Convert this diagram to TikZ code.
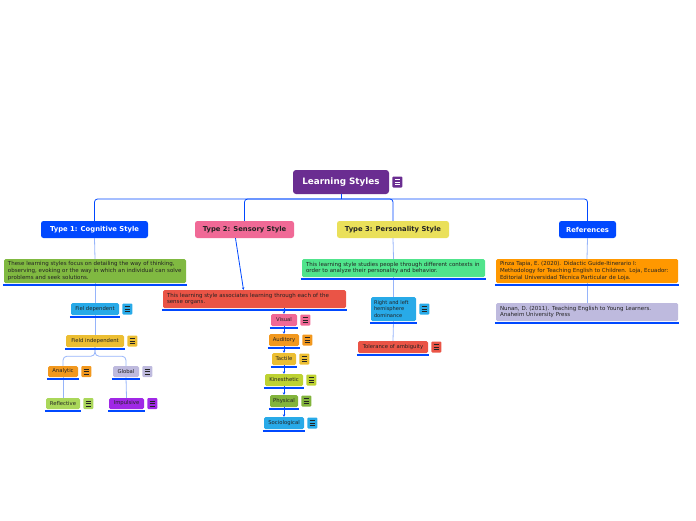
\documentclass[tikz,border=0pt]{standalone}
\usepackage{fontspec}
\setmainfont{DejaVu Sans}
\usetikzlibrary{positioning,arrows.meta}
\definecolor{lspurple}{RGB}{106,45,145}
\definecolor{mapblue}{RGB}{0,72,255}
\definecolor{linkpale}{RGB}{150,180,250}
\definecolor{sensepink}{RGB}{240,105,150}
\definecolor{typeyellow}{RGB}{234,224,90}
\definecolor{cogngreen}{RGB}{128,185,65}
\definecolor{sensered}{RGB}{234,84,70}
\definecolor{persmint}{RGB}{80,228,140}
\definecolor{reforange}{RGB}{255,152,0}
\definecolor{lavgray}{RGB}{190,186,222}
\definecolor{skycyan}{RGB}{40,170,232}
\definecolor{goldfill}{RGB}{236,190,50}
\definecolor{amberfill}{RGB}{242,152,30}
\definecolor{limefill}{RGB}{170,215,90}
\definecolor{impviolet}{RGB}{160,40,230}
\definecolor{kinlime}{RGB}{190,210,50}
\definecolor{physgreen}{RGB}{130,180,60}
\definecolor{inkdark}{RGB}{35,35,35}

\newcommand\menulines[1]{%
  \foreach \dy in {-2.3,0,2.3}{%
    \draw[#1,line width=0.6pt] ([shift={(-2.8pt,\dy pt)}]path picture bounding box.center) -- ++(5.6pt,0pt);}}
\newcommand\ulineof[1]{%
  \draw[uline] ([xshift=-1pt,yshift=-2pt]#1.south west) -- ([xshift=1pt,yshift=-2pt]#1.south east);}

\begin{document}
\begin{tikzpicture}[x=1pt,y=-1pt,
  topicbox/.style={rounded corners=2.5pt,inner sep=0pt,minimum height=17pt,
    font=\fontsize{6.8}{8}\selectfont\bfseries},
  notebox/.style={rounded corners=1.5pt,inner xsep=4pt,inner ysep=0pt,align=left,
    font=\fontsize{5.5}{6.6}\selectfont,text=inkdark},
  leafbox/.style={rounded corners=1.5pt,inner sep=0pt,minimum height=12pt,
    font=\fontsize{5.3}{6}\selectfont,text=inkdark},
  noteicon/.style 2 args={fill=#1,rounded corners=1pt,inner sep=0pt,
    minimum width=10pt,minimum height=11pt,path picture={\menulines{#2}}},
  uline/.style={mapblue,line width=2.4pt},
  mainlink/.style={mapblue,line width=0.8pt,rounded corners=3pt},
  palelink/.style={linkpale,line width=0.8pt},
  steplink/.style={mapblue,line width=0.8pt,-{Stealth[length=2.5pt,width=2.6pt]}}]
  \useasboundingbox (0,0) rectangle (696,520);

  \node[fill=lspurple,text=white,rounded corners=3pt,inner sep=0pt,minimum width=96pt,
    minimum height=24pt,font=\fontsize{8.8}{10}\selectfont\bfseries] (ls) at (341,182) {Learning Styles};
  \node[noteicon={lspurple}{white},right=3pt of ls] (lsicon) {};
  \coordinate (hub) at (341,199);

  \node[topicbox,fill=mapblue,text=white,minimum width=107pt] (cog) at (94.5,229.5) {Type 1: Cognitive Style};
  \node[topicbox,fill=sensepink,text=inkdark,minimum width=99pt] (sens) at (244.5,229.5) {Type 2: Sensory Style};
  \node[topicbox,fill=typeyellow,text=inkdark,minimum width=112pt] (pers) at (393,229.5) {Type 3: Personality Style};
  \node[topicbox,fill=mapblue,text=white,minimum width=57pt] (refs) at (587.5,229.5) {References};

  % type 1
  \node[notebox,fill=cogngreen,minimum width=182pt,text width=174pt,minimum height=24pt] (cogtext) at (95,271)
    {These learning styles focus on detailing the way of thinking,\\observing, evoking or the way in which an individual can solve\\problems and seek solutions.};
  \node[leafbox,fill=skycyan,minimum width=48pt] (fielddep) at (95,309) {Fiel dependent};
  \node[noteicon={skycyan}{inkdark},right=3pt of fielddep] (fielddepicon) {};
  \node[leafbox,fill=goldfill,minimum width=58pt] (fieldind) at (95,341) {Field independent};
  \node[noteicon={goldfill}{inkdark},right=3pt of fieldind] (fieldindicon) {};
  \node[leafbox,fill=amberfill,minimum width=30pt,minimum height=11pt] (analytic) at (63,371.5) {Analytic};
  \node[noteicon={amberfill}{inkdark},right=3pt of analytic] (analyticicon) {};
  \node[leafbox,fill=lavgray,minimum width=26pt,minimum height=11pt] (global) at (126,371.5) {Global};
  \node[noteicon={lavgray}{inkdark},right=3pt of global] (globalicon) {};
  \node[leafbox,fill=limefill,minimum width=34pt,minimum height=11pt] (reflective) at (63,403.5) {Reflective};
  \node[noteicon={limefill}{inkdark},right=3pt of reflective] (reflectiveicon) {};
  \node[leafbox,fill=impviolet,minimum width=35pt,minimum height=11pt] (impulsive) at (126.5,403.5) {Impulsive};
  \node[noteicon={impviolet}{inkdark},right=3pt of impulsive] (impulsiveicon) {};

  % type 2
  \node[notebox,fill=sensered,minimum width=183pt,text width=175pt,minimum height=18pt] (senstext) at (254.5,299)
    {This learning style associates learning through each of the\\sense organs.};
  \node[leafbox,fill=sensepink,minimum width=26pt] (visual) at (284,320) {Visual};
  \node[noteicon={sensepink}{inkdark},right=3pt of visual] (visualicon) {};
  \node[leafbox,fill=amberfill,minimum width=30pt] (auditory) at (284,340) {Auditory};
  \node[noteicon={amberfill}{inkdark},right=3pt of auditory] (auditoryicon) {};
  \node[leafbox,fill=goldfill,minimum width=24pt] (tactile) at (284,359) {Tactile};
  \node[noteicon={goldfill}{inkdark},right=3pt of tactile] (tactileicon) {};
  \node[leafbox,fill=kinlime,minimum width=38pt] (kinesthetic) at (284,380) {Kinesthetic};
  \node[noteicon={kinlime}{inkdark},right=3pt of kinesthetic] (kinestheticicon) {};
  \node[leafbox,fill=physgreen,minimum width=28pt] (physical) at (284,401) {Physical};
  \node[noteicon={physgreen}{inkdark},right=3pt of physical] (physicalicon) {};
  \node[leafbox,fill=skycyan,minimum width=40pt] (sociological) at (284,423) {Sociological};
  \node[noteicon={skycyan}{inkdark},right=3pt of sociological] (sociologicalicon) {};

  % type 3
  \node[notebox,fill=persmint,minimum width=183pt,text width=175pt,minimum height=18pt] (perstext) at (393.5,268)
    {This learning style studies people through different contexts in\\order to analyze their personality and behavior.};
  \node[notebox,fill=skycyan,inner xsep=3pt,minimum width=45pt,text width=39pt,minimum height=24pt,
    font=\fontsize{5.1}{6.8}\selectfont] (hemi) at (393.5,309)
    {Right and left\\hemisphere\\dominance};
  \node[noteicon={skycyan}{inkdark},right=3pt of hemi] (hemiicon) {};
  \node[leafbox,fill=sensered,minimum width=70pt] (tolerance) at (393,347) {Tolerance of ambiguity};
  \node[noteicon={sensered}{inkdark},right=3pt of tolerance] (toleranceicon) {};

  % references
  \node[notebox,fill=reforange,minimum width=182pt,text width=174pt,minimum height=24pt] (pinza) at (587,271)
    {Pinza Tapia, E. (2020). Didactic Guide-Itinerario I:\\Methodology for Teaching English to Children. Loja, Ecuador:\\Editorial Universidad Técnica Particular de Loja.};
  \node[notebox,fill=lavgray,minimum width=182pt,text width=174pt,minimum height=18pt] (nunan) at (587,312)
    {Nunan, D. (2011). Teaching English to Young Learners.\\Anaheim University Press};

  % connectors
  \draw[mainlink] (ls.south) -- (hub);
  \draw[mainlink] (cog.north) |- (hub) -| (refs.north);
  \draw[mainlink] (hub) -| (sens.north);
  \draw[mainlink] (hub) -| (pers.north);

  \draw[palelink] (cog.south) -- (cogtext.north);
  \draw[palelink] (cogtext.south) -- (fielddep.north);
  \draw[palelink] (fielddep.south) -- (fieldind.north);
  \draw[palelink,rounded corners=4pt] (fieldind.south) -- ++(0,9) -| (analytic.north);
  \draw[palelink,rounded corners=4pt] (fieldind.south) -- ++(0,9) -| (global.north);
  \draw[palelink] (analytic.south) -- (reflective.north);
  \draw[palelink] (global.south) -- (impulsive.north);

  \draw[steplink] ([xshift=-9pt]sens.south) -- ([xshift=-11pt]senstext.north);
  \draw[steplink] (senstext.south -| visual.north) -- (visual.north);
  \foreach \a/\b in {visual/auditory,auditory/tactile,tactile/kinesthetic,kinesthetic/physical,physical/sociological}
    \draw[steplink] (\a.south) -- (\b.north);

  \draw[palelink] (pers.south) -- (perstext.north);
  \draw[palelink] (perstext.south) -- (hemi.north);
  \draw[palelink] (hemi.south) -- (tolerance.north);

  \draw[palelink] (refs.south) -- (pinza.north);
  \draw[palelink] (pinza.south) -- (nunan.north);

  \foreach \n in {cogtext,fielddep,fieldind,analytic,global,reflective,impulsive,
    senstext,visual,auditory,tactile,kinesthetic,physical,sociological,
    perstext,hemi,tolerance,pinza,nunan}{\ulineof{\n}}
\end{tikzpicture}
\end{document}
